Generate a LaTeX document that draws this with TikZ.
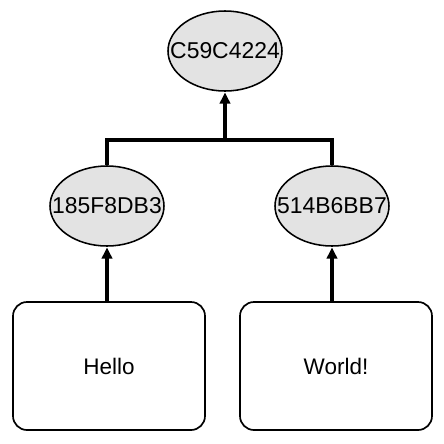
\documentclass[tikz,border=0pt]{standalone}
\usepackage{fontspec}
\setmainfont{Liberation Sans}
\usetikzlibrary{shapes.geometric, arrows.meta}

% label of fixed-size ellipse, may overhang its shape
\newcommand{\hashlabel}[1]{\makebox[0pt]{#1}}

\begin{document}
\begin{tikzpicture}[
    hash/.style={ellipse, draw, line width=1.1pt, fill=gray!22, inner sep=0,
        minimum width=2.85cm, minimum height=2cm, font=\fontsize{16.3}{20}\selectfont},
    block/.style={rectangle, draw, line width=1.2pt, rounded corners=0.35cm,
        minimum width=4.8cm, minimum height=3.2cm, font=\fontsize{16}{20}\selectfont},
    link/.style={line width=2.3pt},
    arr/.style={link, -{Triangle[length=2.8mm, width=2.6mm]}, shorten >=0.5pt}
]
\useasboundingbox (0,0) rectangle (11.1,-11.1);

% Root hash
\node[hash] (root) at (5.625, -1.275) {\hashlabel{C59C4224}};

% Leaf hashes
\node[hash] (h1) at (2.675, -5.15) {\hashlabel{185F8DB3}};
\node[hash] (h2) at (8.3, -5.15) {\hashlabel{514B6BB7}};

% Data blocks
\node[block] (d1) at (2.725, -9.15) {Hello};
\node[block] (d2) at (8.4, -9.15) {World!};

% Join
\coordinate (join) at (5.625, -3.5);
\draw[link] (h1.north) |- (join) -| (h2.north);
\draw[arr] (join) -- (root.south);

% Hashing
\draw[arr] (d1.north -| h1.south) -- (h1.south);
\draw[arr] (d2.north -| h2.south) -- (h2.south);
\end{tikzpicture}
\end{document}
